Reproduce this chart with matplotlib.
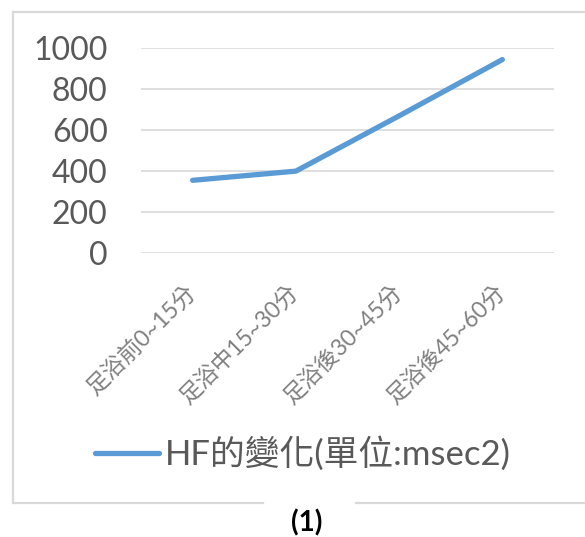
import matplotlib
matplotlib.use("Agg")
import matplotlib.pyplot as plt
import matplotlib.transforms as mtransforms
from matplotlib.lines import Line2D

categories = ["足浴前0~15分", "足浴中15~30分", "足浴後30~45分", "足浴後45~60分"]
hf_values = [355, 400, 670, 945]
series_label = "HF的變化(單位:msec2)"
yticks = [0, 200, 400, 600, 800, 1000]
caption = "(1)"

W, H = 585, 537
fams = ['Lato', 'Noto Sans CJK TC', 'DejaVu Sans']
plt.rcParams['font.family'] = fams

fig = plt.figure(figsize=(W / 100, H / 100), dpi=100)
ax = fig.add_axes([141 / W, 1 - 253 / H, (554 - 141) / W, (253 - 48.3) / H])

x = list(range(len(categories)))
ax.plot(x, hf_values, color='#5B9BD5', lw=3.8, solid_capstyle='round',
        solid_joinstyle='round', label=series_label, zorder=3)
ax.set_xlim(-0.5, len(categories) - 0.5)
ax.set_ylim(0, 1000)
ax.set_yticks(yticks)
ax.set_yticklabels([str(v) for v in yticks], fontsize=23, color='#595959')
ax.yaxis.grid(True, color='#d9d9d9', lw=1.2)
ax.set_axisbelow(True)
ax.tick_params(axis='y', length=0, pad=24)
ax.tick_params(axis='x', length=0, pad=20)
ax.set_xticks(x)
ax.set_xticklabels(categories, rotation=45, ha='right', va='top',
                   rotation_mode='anchor', fontsize=16.5, color='#808080')
shift = mtransforms.ScaledTranslation(-8 / 100, 0, fig.dpi_scale_trans)
for lab in ax.get_xticklabels():
    lab.set_transform(lab.get_transform() + shift)
for s in ax.spines.values():
    s.set_visible(False)

leg = fig.legend(loc='center', bbox_to_anchor=(303 / W, 1 - 454 / H),
                 frameon=False, fontsize=25, handlelength=1.85, handletextpad=0.18,
                 labelcolor='#595959')

fig.text(307 / W, 1 - 523 / H, caption, ha='center', va='center',
         fontsize=20, fontweight='bold', color='black')

bc = '#d9d9d9'
def seg(x0, y0, x1, y1):
    fig.add_artist(Line2D([x0 / W, x1 / W], [1 - y0 / H, 1 - y1 / H],
                          color=bc, lw=1.6, transform=fig.transFigure))
seg(13, 12, 585, 12)
seg(13, 12, 13, 503)
seg(13, 503, 263, 503)
seg(356, 503, 585, 503)

fig.savefig('out.png', dpi=100, facecolor='white')
